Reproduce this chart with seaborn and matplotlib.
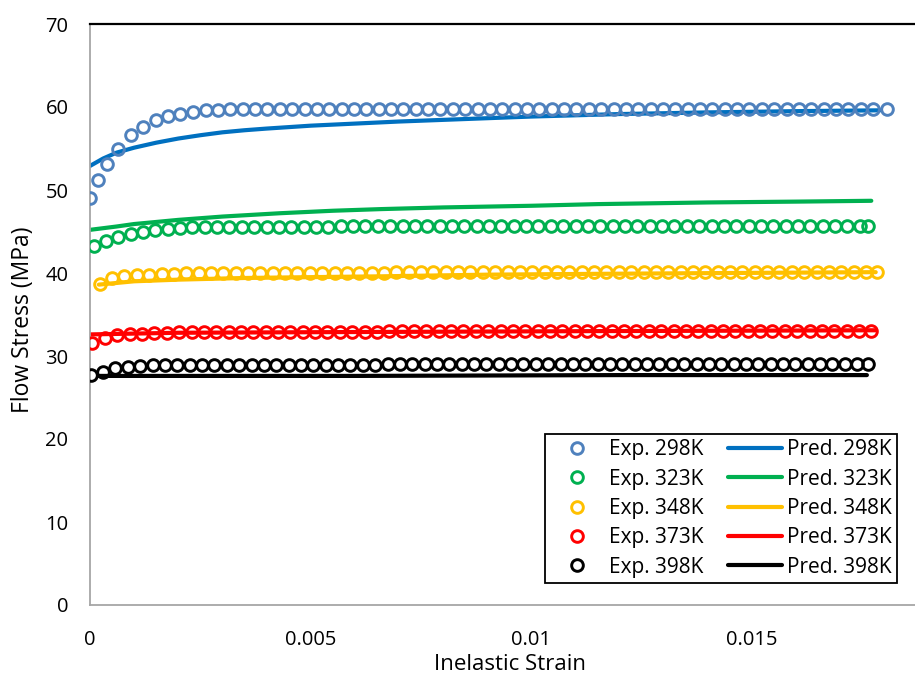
import matplotlib
matplotlib.use("Agg")
import matplotlib.pyplot as plt
import seaborn as sns
import pandas as pd

# ---------------------------------------------------------------------------
# Data (strain given in units of 1e-3, stress in MPa)
# ---------------------------------------------------------------------------
temps = ["298K", "323K", "348K", "373K", "398K"]
exp_colors = ["#4F81BD", "#00B050", "#FFC000", "#FF0000", "#000000"]
pred_colors = ["#0070C0", "#00B050", "#FFC000", "#FF0000", "#000000"]

exp_strain_298 = [
    0.00, 0.19, 0.38, 0.64, 0.92, 1.21, 1.49, 1.77, 2.05, 2.34,
    2.62, 2.90, 3.18, 3.46, 3.74, 4.02, 4.30, 4.58, 4.86, 5.14,
    5.42, 5.70, 5.98, 6.26, 6.54, 6.82, 7.10, 7.38, 7.66, 7.94,
    8.22, 8.50, 8.78, 9.06, 9.34, 9.62, 9.90, 10.18, 10.46, 10.74,
    11.02, 11.30, 11.58, 11.86, 12.14, 12.42, 12.70, 12.98, 13.26, 13.54,
    13.82, 14.10, 14.38, 14.66, 14.94, 15.22, 15.50, 15.78, 16.06, 16.34,
    16.62, 16.90, 17.18, 17.46, 17.74, 18.05,
]
exp_stress_298 = [
    49.0, 51.2, 53.1, 54.9, 56.6, 57.6, 58.4, 58.9, 59.2, 59.4,
    59.6, 59.6, 59.7, 59.7, 59.7, 59.7, 59.7, 59.7, 59.7, 59.7,
    59.7, 59.7, 59.7, 59.7, 59.7, 59.7, 59.7, 59.7, 59.7, 59.7,
    59.7, 59.7, 59.8, 59.8, 59.8, 59.8, 59.8, 59.8, 59.8, 59.8,
    59.8, 59.8, 59.8, 59.8, 59.8, 59.8, 59.8, 59.8, 59.8, 59.8,
    59.8, 59.8, 59.8, 59.8, 59.8, 59.8, 59.8, 59.8, 59.8, 59.8,
    59.8, 59.8, 59.8, 59.8, 59.8, 59.8,
]

exp_strain_323 = [
    0.08, 0.36, 0.64, 0.92, 1.20, 1.48, 1.76, 2.04, 2.32, 2.60,
    2.88, 3.16, 3.44, 3.72, 4.00, 4.28, 4.56, 4.84, 5.12, 5.40,
    5.68, 5.96, 6.24, 6.52, 6.80, 7.08, 7.36, 7.64, 7.92, 8.20,
    8.48, 8.76, 9.04, 9.32, 9.60, 9.88, 10.16, 10.44, 10.72, 11.00,
    11.28, 11.56, 11.84, 12.12, 12.40, 12.68, 12.96, 13.24, 13.52, 13.80,
    14.08, 14.36, 14.64, 14.92, 15.20, 15.48, 15.76, 16.04, 16.32, 16.60,
    16.88, 17.16, 17.44, 17.62,
]
exp_stress_323 = [
    43.2, 43.8, 44.3, 44.7, 45.0, 45.2, 45.3, 45.4, 45.5, 45.5,
    45.6, 45.6, 45.6, 45.6, 45.6, 45.6, 45.6, 45.6, 45.6, 45.6,
    45.7, 45.7, 45.7, 45.7, 45.7, 45.7, 45.7, 45.7, 45.7, 45.7,
    45.7, 45.7, 45.7, 45.7, 45.7, 45.7, 45.7, 45.7, 45.7, 45.7,
    45.7, 45.7, 45.7, 45.7, 45.7, 45.7, 45.7, 45.7, 45.7, 45.7,
    45.7, 45.7, 45.7, 45.7, 45.7, 45.7, 45.7, 45.7, 45.7, 45.7,
    45.7, 45.7, 45.7, 45.7,
]

exp_strain_348 = [
    0.23, 0.50, 0.78, 1.06, 1.34, 1.62, 1.90, 2.18, 2.46, 2.74,
    3.02, 3.30, 3.58, 3.86, 4.14, 4.42, 4.70, 4.98, 5.26, 5.54,
    5.82, 6.10, 6.38, 6.66, 6.94, 7.22, 7.50, 7.78, 8.06, 8.34,
    8.62, 8.90, 9.18, 9.46, 9.74, 10.02, 10.30, 10.58, 10.86, 11.14,
    11.42, 11.70, 11.98, 12.26, 12.54, 12.82, 13.10, 13.38, 13.66, 13.94,
    14.22, 14.50, 14.78, 15.06, 15.34, 15.62, 15.90, 16.18, 16.46, 16.74,
    17.02, 17.30, 17.58, 17.82,
]
exp_stress_348 = [
    38.7, 39.4, 39.6, 39.7, 39.8, 39.9, 39.9, 40.0, 40.0, 40.0,
    40.0, 40.0, 40.0, 40.0, 40.0, 40.0, 40.0, 40.0, 40.0, 40.0,
    40.0, 40.0, 40.0, 40.0, 40.1, 40.1, 40.1, 40.1, 40.1, 40.1,
    40.1, 40.1, 40.1, 40.1, 40.1, 40.1, 40.1, 40.1, 40.1, 40.1,
    40.1, 40.1, 40.1, 40.1, 40.1, 40.1, 40.1, 40.1, 40.1, 40.1,
    40.1, 40.1, 40.1, 40.1, 40.1, 40.1, 40.1, 40.1, 40.1, 40.1,
    40.1, 40.1, 40.1, 40.1,
]

exp_strain_373 = [
    0.04, 0.34, 0.62, 0.90, 1.18, 1.46, 1.74, 2.02, 2.30, 2.58,
    2.86, 3.14, 3.42, 3.70, 3.98, 4.26, 4.54, 4.82, 5.10, 5.38,
    5.66, 5.94, 6.22, 6.50, 6.78, 7.06, 7.34, 7.62, 7.90, 8.18,
    8.46, 8.74, 9.02, 9.30, 9.58, 9.86, 10.14, 10.42, 10.70, 10.98,
    11.26, 11.54, 11.82, 12.10, 12.38, 12.66, 12.94, 13.22, 13.50, 13.78,
    14.06, 14.34, 14.62, 14.90, 15.18, 15.46, 15.74, 16.02, 16.30, 16.58,
    16.86, 17.14, 17.42, 17.70,
]
exp_stress_373 = [
    31.6, 32.2, 32.5, 32.6, 32.7, 32.8, 32.8, 32.9, 32.9, 32.9,
    32.9, 32.9, 32.9, 32.9, 32.9, 32.9, 32.9, 32.9, 32.9, 32.9,
    32.9, 32.9, 32.9, 32.9, 33.0, 33.0, 33.0, 33.0, 33.0, 33.0,
    33.0, 33.0, 33.0, 33.0, 33.0, 33.0, 33.0, 33.0, 33.0, 33.0,
    33.0, 33.0, 33.0, 33.0, 33.0, 33.0, 33.0, 33.0, 33.0, 33.0,
    33.0, 33.0, 33.0, 33.0, 33.0, 33.0, 33.0, 33.0, 33.0, 33.0,
    33.0, 33.0, 33.0, 33.0,
]

exp_strain_398 = [
    0.02, 0.29, 0.57, 0.85, 1.14, 1.42, 1.70, 1.98, 2.26, 2.54,
    2.82, 3.10, 3.38, 3.66, 3.94, 4.22, 4.50, 4.78, 5.06, 5.34,
    5.62, 5.90, 6.18, 6.46, 6.74, 7.02, 7.30, 7.58, 7.86, 8.14,
    8.42, 8.70, 8.98, 9.26, 9.54, 9.82, 10.10, 10.38, 10.66, 10.94,
    11.22, 11.50, 11.78, 12.06, 12.34, 12.62, 12.90, 13.18, 13.46, 13.74,
    14.02, 14.30, 14.58, 14.86, 15.14, 15.42, 15.70, 15.98, 16.26, 16.54,
    16.82, 17.10, 17.38, 17.62,
]
exp_stress_398 = [
    27.7, 28.1, 28.5, 28.7, 28.8, 28.9, 28.9, 28.9, 28.9, 28.9,
    28.9, 28.9, 28.9, 28.9, 28.9, 28.9, 28.9, 28.9, 28.9, 28.9,
    28.9, 28.9, 28.9, 28.9, 29.0, 29.0, 29.0, 29.0, 29.0, 29.0,
    29.0, 29.0, 29.0, 29.0, 29.0, 29.0, 29.0, 29.0, 29.0, 29.0,
    29.0, 29.0, 29.0, 29.0, 29.0, 29.0, 29.0, 29.0, 29.0, 29.0,
    29.0, 29.0, 29.0, 29.0, 29.0, 29.0, 29.0, 29.0, 29.0, 29.0,
    29.0, 29.0, 29.0, 29.0,
]

pred_strain_298 = [0.0, 0.3, 0.6, 1.0, 1.5, 2.0, 2.5, 3.0, 3.5, 4.0, 5.0, 6.0,
                   7.0, 8.0, 9.0, 10.0, 12.0, 14.0, 16.0, 17.9]
pred_stress_298 = [52.9, 53.8, 54.5, 55.1, 55.7, 56.2, 56.6, 56.95, 57.2, 57.4, 57.75, 58.0,
                   58.25, 58.45, 58.65, 58.85, 59.15, 59.35, 59.5, 59.6]

pred_strain_323 = [0.0, 0.6, 1.0, 2.0, 3.0, 4.3, 5.5, 6.6, 8.0, 10.0, 11.5, 14.0, 16.0, 17.7]
pred_stress_323 = [45.2, 45.6, 45.9, 46.4, 46.8, 47.2, 47.5, 47.7, 47.9, 48.1, 48.3, 48.5, 48.6, 48.7]

pred_strain_348 = [0.2, 0.6, 1.0, 2.0, 3.5, 5.0, 6.6, 9.0, 11.5, 14.5, 17.8]
pred_stress_348 = [38.6, 38.8, 39.0, 39.2, 39.4, 39.5, 39.6, 39.8, 39.9, 40.0, 40.1]

pred_strain_373 = [0.0, 2.0, 6.6, 11.5, 17.8]
pred_stress_373 = [32.6, 32.8, 32.9, 33.0, 33.1]

pred_strain_398 = [0.2, 6.0, 12.0, 17.6]
pred_stress_398 = [27.6, 27.6, 27.7, 27.7]

exp_strain = [exp_strain_298, exp_strain_323, exp_strain_348, exp_strain_373, exp_strain_398]
exp_stress = [exp_stress_298, exp_stress_323, exp_stress_348, exp_stress_373, exp_stress_398]
pred_strain = [pred_strain_298, pred_strain_323, pred_strain_348, pred_strain_373, pred_strain_398]
pred_stress = [pred_stress_298, pred_stress_323, pred_stress_348, pred_stress_373, pred_stress_398]

x_ticks = [0, 0.005, 0.01, 0.015]
x_tick_labels = ["0", "0.005", "0.01", "0.015"]
y_ticks = [0, 10, 20, 30, 40, 50, 60, 70]

# ---------------------------------------------------------------------------
# Figure
# ---------------------------------------------------------------------------
sns.set_theme(style="white")
plt.rcParams["font.family"] = ["Open Sans", "DejaVu Sans"]
plt.rcParams["text.color"] = "#000000"

fig = plt.figure(figsize=(9.15, 6.77), dpi=100)
ax = fig.add_axes([90 / 915, 72 / 677, 825 / 915, 581 / 677])

# predicted curves (drawn underneath the open markers)
for t, xs, ys, c in zip(temps, pred_strain, pred_stress, pred_colors):
    df = pd.DataFrame({"strain": [v * 1e-3 for v in xs], "stress": ys})
    sns.lineplot(data=df, x="strain", y="stress", ax=ax, color=c, lw=3.0,
                 estimator=None, sort=False, label=f"Pred. {t}", zorder=2,
                 solid_capstyle="round")

# experimental points
for t, xs, ys, c in zip(temps, exp_strain, exp_stress, exp_colors):
    df = pd.DataFrame({"strain": [v * 1e-3 for v in xs], "stress": ys})
    sns.lineplot(data=df, x="strain", y="stress", ax=ax, color=c,
                 linestyle="none", marker="o", markersize=8.4,
                 markerfacecolor="none", markeredgecolor=c,
                 markeredgewidth=2.1, estimator=None, sort=False,
                 label=f"Exp. {t}", zorder=3)

ax.set_xlim(0, 0.01869)
ax.set_ylim(0, 70)
ax.set_xticks(x_ticks)
ax.set_xticklabels(x_tick_labels)
ax.set_yticks(y_ticks)
ax.tick_params(axis="both", length=0, labelsize=14.5, colors="#000000")
ax.tick_params(axis="y", pad=15.5)
ax.tick_params(axis="x", pad=18)

for side in ("left", "bottom"):
    ax.spines[side].set_color("#A6A6A6")
    ax.spines[side].set_linewidth(1.3)
ax.spines["top"].set_color("#000000")
ax.spines["top"].set_linewidth(1.6)
ax.spines["right"].set_visible(False)

ax.set_xlabel("Inelastic Strain", fontsize=16, color="#000000")
ax.set_ylabel("Flow Stress (MPa)", fontsize=16.5, color="#000000")
ax.xaxis.set_label_coords(0.509, -0.084)
ax.yaxis.set_label_coords(-0.067, 0.4905)

handles, labels = ax.get_legend_handles_labels()
order = [labels.index(f"Exp. {t}") for t in temps] + [labels.index(f"Pred. {t}") for t in temps]
leg = ax.legend([handles[i] for i in order], [labels[i] for i in order],
                ncol=2, loc="lower right", bbox_to_anchor=(0.978, 0.038),
                borderaxespad=0, fontsize=15, frameon=True, fancybox=False,
                edgecolor="#000000", framealpha=1, handlelength=2.6,
                handletextpad=0.24, columnspacing=1.15, labelspacing=0.4,
                borderpad=0.25)
leg.get_frame().set_linewidth(1.3)
for txt in leg.get_texts():
    txt.set_color("#000000")

fig.savefig("out.png", dpi=100)
